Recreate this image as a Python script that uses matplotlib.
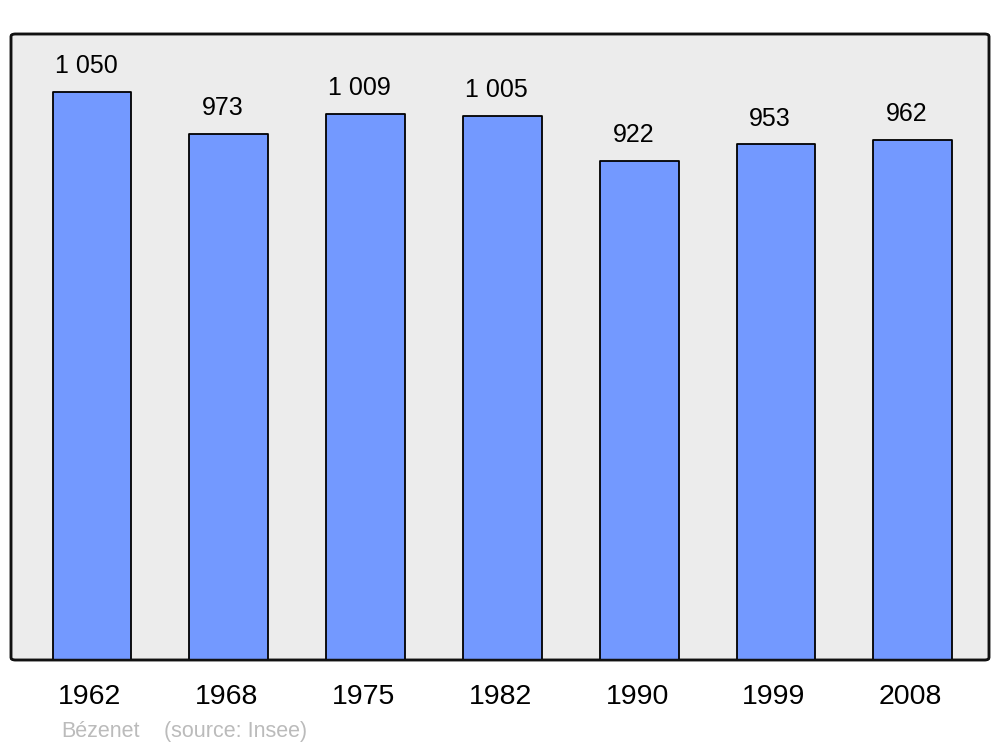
import matplotlib
matplotlib.use('Agg')
import matplotlib.pyplot as plt
import matplotlib.transforms as mtransforms
from matplotlib.patches import FancyBboxPatch

# Data
years = ['1962', '1968', '1975', '1982', '1990', '1999', '2008']
population = [1050, 973, 1009, 1005, 922, 953, 962]
value_labels = ['1 050', '973', '1 009', '1 005', '922', '953', '962']

BAR_COLOR = '#7399ff'
BG_COLOR = '#ececec'

plt.rcParams['font.family'] = ['Liberation Sans', 'DejaVu Sans']

fig = plt.figure(figsize=(10, 7.47), dpi=100)
ax = fig.add_axes([0.011, 87 / 747, 0.978, 626 / 747])
ax.set_facecolor('none')

x = list(range(len(years)))
ax.bar(x, population, width=0.575, color=BAR_COLOR, edgecolor='black',
       linewidth=1.3, joinstyle='round', zorder=2)

# value labels sit a little left of the bar centre
for xi, val, lab in zip(x, population, value_labels):
    ax.annotate(lab, (xi, val), xytext=(-4.3, 13.5), textcoords='offset points',
                ha='center', va='baseline', fontsize=18, color='black')

ax.set_xlim(-0.592, 6.557)
ax.set_ylim(0, 1157)
ax.set_xticks(x)
ax.set_xticklabels(years, fontsize=20.5)
ax.tick_params(axis='x', length=0, pad=17)
shift = mtransforms.ScaledTranslation(-2 / 100, 0, fig.dpi_scale_trans)
for t in ax.get_xticklabels():
    t.set_transform(t.get_transform() + shift)
ax.set_yticks([])
for s in ax.spines.values():
    s.set_visible(False)

# rounded frame with grey background
frame = FancyBboxPatch((0, 0), 1, 1, boxstyle='round,pad=0,rounding_size=0.004',
                       transform=ax.transAxes, facecolor=BG_COLOR,
                       edgecolor='#111111', linewidth=1.8, zorder=0,
                       clip_on=False)
ax.add_patch(frame)
frame2 = FancyBboxPatch((0, 0), 1, 1, boxstyle='round,pad=0,rounding_size=0.004',
                        transform=ax.transAxes, facecolor='none',
                        edgecolor='#111111', linewidth=1.8, zorder=3,
                        clip_on=False)
ax.add_patch(frame2)

fig.text(0.061, 10 / 747, 'Bézenet', fontsize=15.5, color='#bbbbbb', va='baseline')
fig.text(0.164, 10 / 747, '(source: Insee)', fontsize=15.5, color='#bbbbbb', va='baseline')

fig.savefig('out.png', dpi=100, facecolor='white')
